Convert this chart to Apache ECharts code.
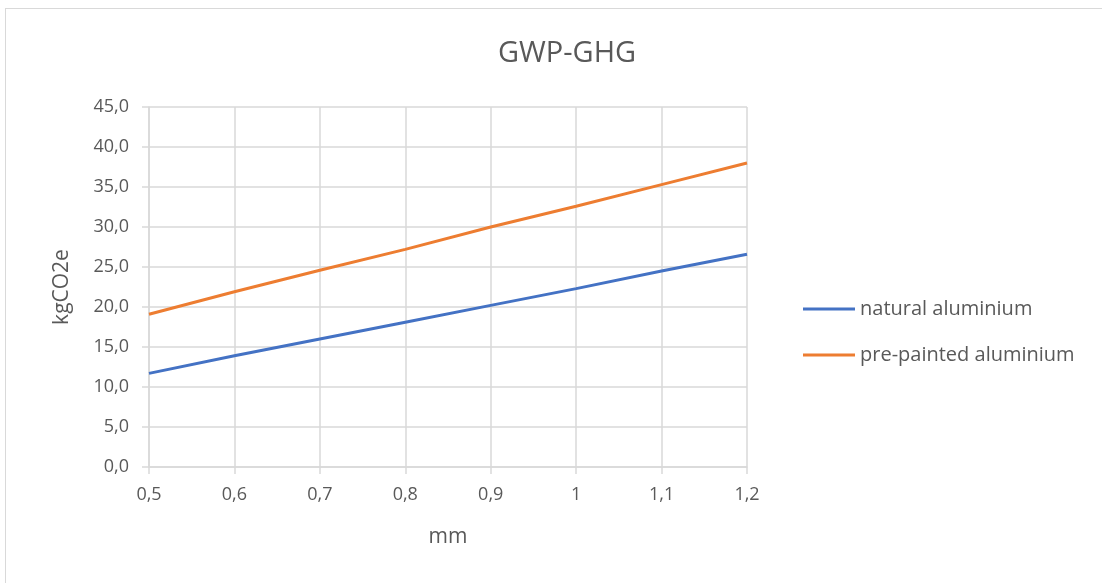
<!DOCTYPE html>
<html><head><meta charset="utf-8">
<script src="https://cdn.jsdelivr.net/npm/echarts@6/dist/echarts.min.js"></script>
<style>
html,body{margin:0;padding:0;background:#fff;}
#frame{position:absolute;left:5px;top:8px;width:1110px;height:590px;border:1px solid #d9d9d9;box-sizing:border-box;}
#c{position:absolute;left:0;top:0;width:1102px;height:583px;}
</style></head>
<body>
<div id="frame"></div>
<div id="c"></div>
<script>
const categories = ['0,5','0,6','0,7','0,8','0,9','1','1,1','1,2'];
const naturalAluminium = [11.7, 13.9, 16.0, 18.1, 20.2, 22.3, 24.5, 26.6];
const prePaintedAluminium = [19.1, 21.9, 24.6, 27.2, 30.0, 32.6, 35.3, 38.0];
const seriesNames = ['natural aluminium', 'pre-painted aluminium'];

const FONT = '"Open Sans", "Noto Sans", sans-serif';
const TXT = '#595959';
const chart = echarts.init(document.getElementById('c'));
chart.setOption({
  animation: false,
  backgroundColor: 'transparent',
  title: {
    text: 'GWP-GHG', left: 562, top: 34, textAlign: 'center',
    textStyle: {fontFamily: FONT, fontSize: 29, fontWeight: 'normal', color: TXT}
  },
  legend: {
    orient: 'vertical', left: 798, top: 294, itemGap: 26,
    itemWidth: 52, itemHeight: 3, icon: 'rect',
    textStyle: {fontFamily: FONT, fontSize: 20, color: TXT},
    data: seriesNames
  },
  grid: {left: 149, right: 355, top: 107, bottom: 116, containLabel: false},
  xAxis: {
    type: 'category', data: categories, boundaryGap: false,
    name: 'mm', nameLocation: 'middle', nameGap: 60,
    nameTextStyle: {fontFamily: FONT, fontSize: 21, color: TXT},
    axisLine: {lineStyle: {color: '#d9d9d9', width: 1.5}},
    axisTick: {show: true, length: 7, lineStyle: {color: '#d9d9d9', width: 1.5}},
    axisLabel: {fontFamily: FONT, fontSize: 18, color: TXT, margin: 19},
    splitLine: {show: true, lineStyle: {color: '#d9d9d9', width: 1.5}}
  },
  yAxis: {
    type: 'value', min: 0, max: 45, interval: 5,
    name: 'kgCO2e', nameLocation: 'middle', nameGap: 76, nameRotate: 90,
    nameTextStyle: {fontFamily: FONT, fontSize: 21, color: TXT},
    axisLine: {show: true, lineStyle: {color: '#d9d9d9', width: 1.5}},
    axisTick: {show: true, length: 7, lineStyle: {color: '#d9d9d9', width: 1.5}},
    axisLabel: {fontFamily: FONT, fontSize: 18, color: TXT, margin: 20,
      formatter: v => v.toFixed(1).replace('.', ',')},
    splitLine: {show: true, lineStyle: {color: '#d9d9d9', width: 1.5}}
  },
  series: [
    {name: seriesNames[0], type: 'line', data: naturalAluminium, showSymbol: false,
     symbol: 'none', lineStyle: {color: '#4472C4', width: 3}, itemStyle: {color: '#4472C4'}},
    {name: seriesNames[1], type: 'line', data: prePaintedAluminium, showSymbol: false,
     symbol: 'none', lineStyle: {color: '#ED7D31', width: 3}, itemStyle: {color: '#ED7D31'}}
  ]
});
</script>
</body></html>
